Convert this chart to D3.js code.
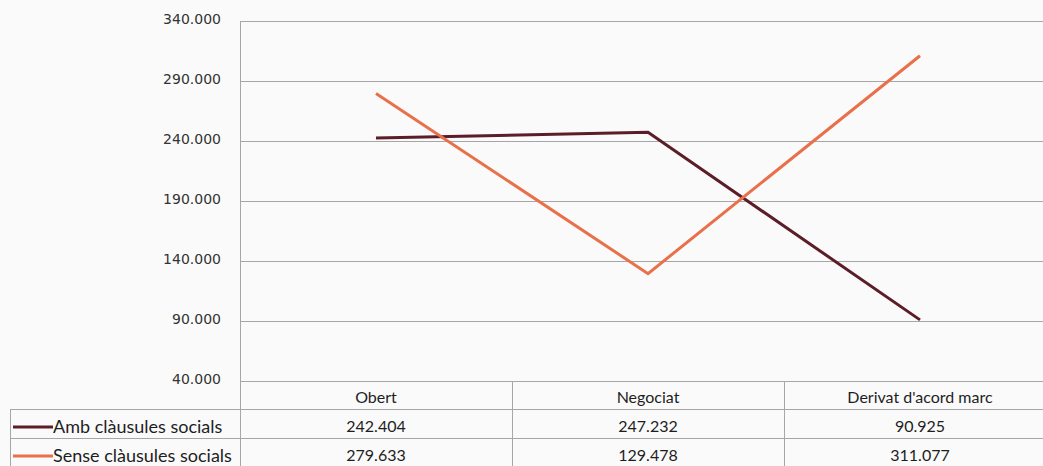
<!DOCTYPE html>
<html><head><meta charset="utf-8">
<script src="https://cdn.jsdelivr.net/npm/d3@7"></script>
<style>
html,body{margin:0;padding:0;background:#fafafa;}
svg{display:block;}
</style></head>
<body>
<svg id="c" width="1043" height="466"></svg>
<script>
const categories = ["Obert", "Negociat", "Derivat d'acord marc"];
const seriesNames = ["Amb clàusules socials", "Sense clàusules socials"];
const ambValues = [242404, 247232, 90925];
const senseValues = [279633, 129478, 311077];
const valueLabels = [["242.404", "247.232", "90.925"], ["279.633", "129.478", "311.077"]];
const yTicks = [40000, 90000, 140000, 190000, 240000, 290000, 340000];
const colors = ["#5b1e28", "#e8704a"];

(function () {
const svg = d3.select("#c");
const pLeft = 240, pRight = 1056, pTop = 21, pBottom = 381;
const x = d3.scaleBand().domain(categories).range([pLeft, pRight]).padding(0);
const y = d3.scaleLinear().domain([40000, 340000]).range([pBottom, pTop]);
const fmt = v => d3.format(",")(v).replace(/,/g, ".");
const grid = "#a6a6a6";

svg.append("g").selectAll("line").data(yTicks).join("line")
  .attr("x1", pLeft).attr("x2", 1043)
  .attr("y1", d => Math.round(y(d)) + 0.5).attr("y2", d => Math.round(y(d)) + 0.5)
  .attr("stroke", grid).attr("stroke-width", 1);

const yAxis = d3.axisLeft(y).tickValues(yTicks).tickFormat(fmt).tickSize(0).tickPadding(19);
const ya = svg.append("g").attr("transform", `translate(${pLeft},0)`).call(yAxis);
ya.select(".domain").remove();
ya.selectAll("text").attr("font-family", "DejaVu Sans, sans-serif").attr("font-size", 14)
  .attr("fill", "#333").attr("dy", "0.2em");

svg.append("line").attr("x1", pLeft + 0.5).attr("x2", pLeft + 0.5).attr("y1", pTop).attr("y2", 466)
  .attr("stroke", grid);

const tbl = svg.append("g");
tbl.append("line").attr("x1", 10).attr("x2", 1043).attr("y1", 409.5).attr("y2", 409.5).attr("stroke", grid);
tbl.append("line").attr("x1", 10).attr("x2", 1043).attr("y1", 438.5).attr("y2", 438.5).attr("stroke", grid);
tbl.append("line").attr("x1", 10.5).attr("x2", 10.5).attr("y1", 409).attr("y2", 466).attr("stroke", grid);
tbl.selectAll("line.sep").data(categories.slice(1)).join("line").attr("class", "sep")
  .attr("x1", d => Math.round(x(d)) + 0.5).attr("x2", d => Math.round(x(d)) + 0.5)
  .attr("y1", pBottom).attr("y2", 466).attr("stroke", grid);

const tf = "Lato, 'Open Sans', sans-serif";
tbl.selectAll("text.hdr").data(categories).join("text").attr("class", "hdr")
  .attr("x", d => x(d) + x.bandwidth() / 2).attr("y", 403)
  .attr("text-anchor", "middle").attr("font-family", tf).attr("font-size", 16).attr("fill", "#1e1e1e")
  .text(d => d);
valueLabels.forEach((row, i) => {
  tbl.selectAll("text.v" + i).data(row).join("text").attr("class", "v" + i)
    .attr("x", (d, j) => x(categories[j]) + x.bandwidth() / 2).attr("y", 432 + i * 29)
    .attr("text-anchor", "middle").attr("font-family", tf).attr("font-size", 16).attr("fill", "#1e1e1e")
    .text(d => d);
});
seriesNames.forEach((n, i) => {
  const yy = 427 + i * 29;
  tbl.append("line").attr("x1", 13).attr("x2", 53).attr("y1", yy).attr("y2", yy)
    .attr("stroke", colors[i]).attr("stroke-width", 3);
  tbl.append("text").attr("x", 53).attr("y", 433 + i * 29).attr("font-family", tf)
    .attr("font-size", 18).attr("fill", "#1e1e1e").text(n);
});

const line = d3.line().x((d, j) => x(categories[j]) + x.bandwidth() / 2).y(d => y(d));
[ambValues, senseValues].forEach((vals, i) => {
  svg.append("path").datum(vals).attr("d", line).attr("fill", "none")
    .attr("stroke", colors[i]).attr("stroke-width", 3).attr("stroke-linejoin", "miter");
});
})();
</script>
</body></html>
